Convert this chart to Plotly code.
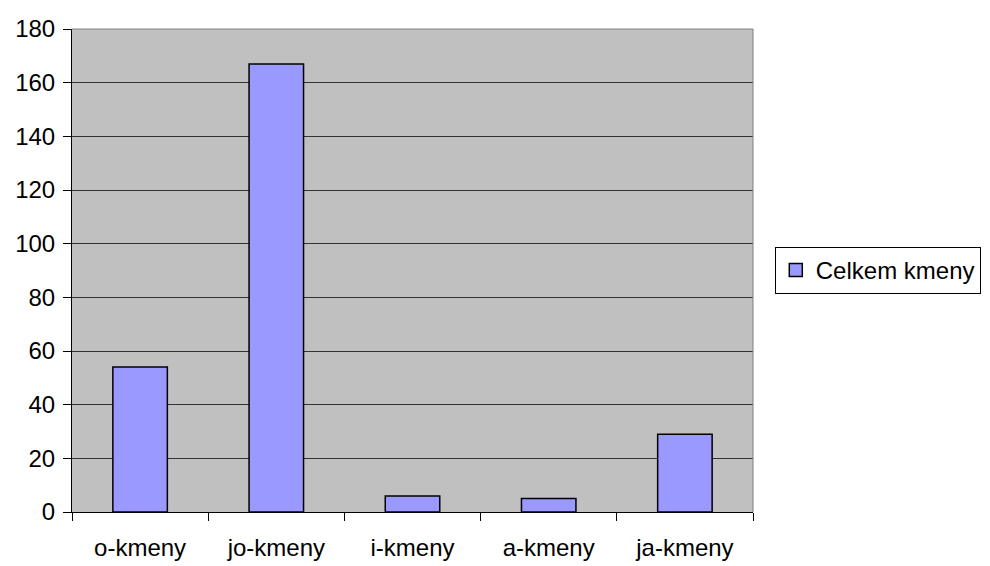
import plotly.graph_objects as go

categories = ["o-kmeny", "jo-kmeny", "i-kmeny", "a-kmeny", "ja-kmeny"]
values = [54, 167, 6, 5, 29]
series_name = "Celkem kmeny"
y_ticks = list(range(0, 181, 20))

bar_color = "#9999FF"

fig = go.Figure()
fig.add_trace(go.Bar(
    x=categories,
    y=values,
    name=series_name,
    width=0.4,
    marker=dict(color=bar_color, line=dict(color="#000000", width=1.5)),
    showlegend=False,
))
# legend entry with a larger square swatch
fig.add_trace(go.Scatter(
    x=[None],
    y=[None],
    mode="markers",
    name=series_name,
    marker=dict(symbol="square", size=13, color=bar_color,
                line=dict(color="#000000", width=1.5)),
    showlegend=True,
))

font = dict(family="Liberation Sans, Arial, sans-serif", size=24, color="#000000")

fig.update_layout(
    width=990,
    height=566,
    margin=dict(l=72, r=237, t=29, b=54, autoexpand=False),
    paper_bgcolor="#FFFFFF",
    plot_bgcolor="#C0C0C0",
    font=font,
    showlegend=True,
    legend=dict(
        x=1.032,
        y=0.5,
        xanchor="left",
        yanchor="middle",
        bgcolor="#FFFFFF",
        bordercolor="#000000",
        borderwidth=1,
        font=font,
        itemwidth=30,
        tracegroupgap=0,
    ),
    shapes=[
        # grey frame along the top and right edges of the plot area
        dict(type="line", xref="paper", yref="paper", x0=0, x1=1, y0=1, y1=1,
             line=dict(color="#808080", width=1)),
        dict(type="line", xref="paper", yref="paper", x0=1, x1=1, y0=0, y1=1,
             line=dict(color="#808080", width=1)),
    ],
)

fig.update_xaxes(
    type="category",
    categoryorder="array",
    categoryarray=categories,
    tickson="boundaries",
    ticks="outside",
    ticklen=8,
    tickcolor="#000000",
    showline=True,
    linecolor="#000000",
    linewidth=1,
    showgrid=False,
    tickfont=font,
    ticklabelstandoff=14,
    automargin=False,
)

fig.update_yaxes(
    range=[0, 180],
    tickvals=y_ticks,
    ticks="outside",
    ticklen=8,
    tickcolor="#000000",
    showline=True,
    linecolor="#000000",
    linewidth=1,
    showgrid=True,
    gridcolor="#333333",
    gridwidth=1,
    zeroline=False,
    tickfont=font,
    ticklabelstandoff=3,
    automargin=False,
)

fig.write_html("out.html")
